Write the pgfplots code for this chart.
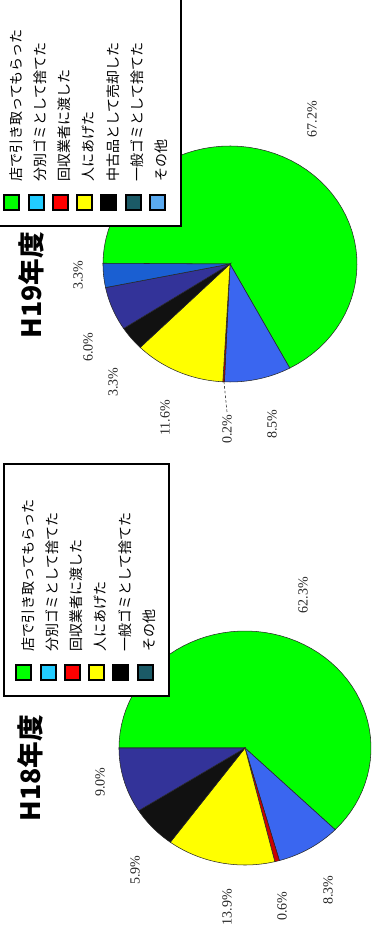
\documentclass[border=0pt]{standalone}
\usepackage{graphicx}
\usepackage{pgfplots}
\pgfplotsset{compat=1.18}
\usepackage{fontspec}
\setmainfont{Liberation Serif}
\newfontfamily\cjk{Noto Sans CJK JP}
% pie colours
\definecolor{pgreen}{HTML}{00FF00}
\definecolor{pblue}{HTML}{3A66F0}
\definecolor{pred}{HTML}{CC0000}
\definecolor{pyellow}{HTML}{FFFF00}
\definecolor{pblack}{HTML}{111111}
\definecolor{pnavy}{HTML}{333399}
\definecolor{pother}{HTML}{1A5FD2}
% legend colours
\definecolor{lgreen}{HTML}{00FF00}
\definecolor{lcyan}{HTML}{22CCFF}
\definecolor{lred}{HTML}{FF0000}
\definecolor{lyellow}{HTML}{FFFF00}
\definecolor{lblack}{HTML}{000000}
\definecolor{lteal}{HTML}{1B5A66}
\definecolor{lsky}{HTML}{5AAAF0}

\newcommand\piestart[4]{\xdef\cum{0}\xdef\pcx{#1}\xdef\pcy{#2}\xdef\prx{#3}\xdef\pry{#4}}
\newcommand\slice[2]{%
  \pgfmathsetmacro\slA{90-3.6*(\cum+#2)}%
  \pgfmathsetmacro\slB{90-3.6*\cum}%
  \edef\sltemp{\noexpand\addplot[fill=#1, draw=black!85, line width=0.4pt,
     domain=\slA:\slB, samples=60, variable=\noexpand\t, forget plot]
     ({\pcx+\prx*cos(\noexpand\t)}, {\pcy+\pry*sin(\noexpand\t)})
     -- (axis cs:\pcx,\pcy) -- cycle;}%
  \sltemp
  \pgfmathsetmacro\slC{\cum+#2}\xdef\cum{\slC}%
}

\pgfplotsset{
  pieaxis/.style={
    at={(0,0)}, anchor=south west,
    x=0.75pt, y=0.75pt,
    xmin=0, xmax=943, ymin=0, ymax=382,
    hide axis, clip=false,
    legend image code/.code={\draw[##1, line width=1.5pt] (0pt,-1.6pt) rectangle (11.25pt,9.65pt);},
    legend cell align=left,
    legend style={draw=black, line width=1.5pt, fill=white,
      inner xsep=11.5pt, inner ysep=8.5pt, row sep=2.3pt, column sep=9pt,
      font=\cjk\fontsize{10.5}{12}\selectfont,
      nodes={inner sep=0pt, text height=8.5pt, text depth=2.5pt, text width=129pt, align=left}},
  },
}
\tikzset{
  lab/.style={font=\fontsize{10.5}{12}\selectfont, text=black!85},
  ttl/.style={font=\cjk\bfseries\fontsize{20}{24}\selectfont},
}

\begin{document}
\rotatebox{90}{%
\begin{tikzpicture}[x=0.75pt,y=0.75pt]
\useasboundingbox (0,0) rectangle (943,382);
\clip (0,0) rectangle (943,382);
% ---------------- H18 ----------------
\begin{axis}[pieaxis,
  legend style={at={(axis cs:246,379)}, anchor=north west}]
\piestart{195}{137}{117}{126}
\slice{pgreen}{62.3}
\slice{pblue}{8.3}
\slice{pred}{0.6}
\slice{pyellow}{13.9}
\slice{pblack}{5.9}
\slice{pnavy}{9.0}
\addlegendimage{fill=lgreen, draw=black}\addlegendentry{店で引き取ってもらった}
\addlegendimage{fill=lcyan, draw=black}\addlegendentry{分別ゴミとして捨てた}
\addlegendimage{fill=lred, draw=black}\addlegendentry{回収業者に渡した}
\addlegendimage{fill=lyellow, draw=black}\addlegendentry{人にあげた}
\addlegendimage{fill=lblack, draw=black}\addlegendentry{一般ゴミとして捨てた}
\addlegendimage{fill=lteal, draw=black}\addlegendentry{その他}
\node[lab] at (axis cs:348,79) {62.3\%};
\node[lab] at (axis cs:53,54) {8.3\%};
\node[lab] at (axis cs:37,100) {0.6\%};
\node[lab] at (axis cs:36,155) {13.9\%};
\node[lab] at (axis cs:73,247) {5.9\%};
\node[lab] at (axis cs:161,282) {9.0\%};
\node[ttl] at (axis cs:175,352) {H18年度};
\end{axis}
% ---------------- H19 ----------------
\begin{axis}[pieaxis,
  legend style={at={(axis cs:716,391)}, anchor=north west}]
\piestart{679}{152}{118}{127}
\slice{pgreen}{67.2}
\slice{pblue}{8.5}
\slice{pred}{0.2}
\slice{pyellow}{11.6}
\slice{pblack}{3.3}
\slice{pnavy}{6.0}
\slice{pother}{3.3}
\addplot[black!70, line width=0.5pt, dash pattern=on 2pt off 1.5pt, forget plot] coordinates {(531,155) (561,158)};
\addlegendimage{fill=lgreen, draw=black}\addlegendentry{店で引き取ってもらった}
\addlegendimage{fill=lcyan, draw=black}\addlegendentry{分別ゴミとして捨てた}
\addlegendimage{fill=lred, draw=black}\addlegendentry{回収業者に渡した}
\addlegendimage{fill=lyellow, draw=black}\addlegendentry{人にあげた}
\addlegendimage{fill=lblack, draw=black}\addlegendentry{中古品として売却した}
\addlegendimage{fill=lteal, draw=black}\addlegendentry{一般ゴミとして捨てた}
\addlegendimage{fill=lsky, draw=black}\addlegendentry{その他}
\node[lab] at (axis cs:824,70) {67.2\%};
\node[lab] at (axis cs:519,110) {8.5\%};
\node[lab] at (axis cs:514,155) {0.2\%};
\node[lab] at (axis cs:525,217) {11.6\%};
\node[lab] at (axis cs:561,269) {3.3\%};
\node[lab] at (axis cs:596,294) {6.0\%};
\node[lab] at (axis cs:668,304) {3.3\%};
\node[ttl] at (axis cs:658,351) {H19年度};
\end{axis}
\end{tikzpicture}}
\end{document}
